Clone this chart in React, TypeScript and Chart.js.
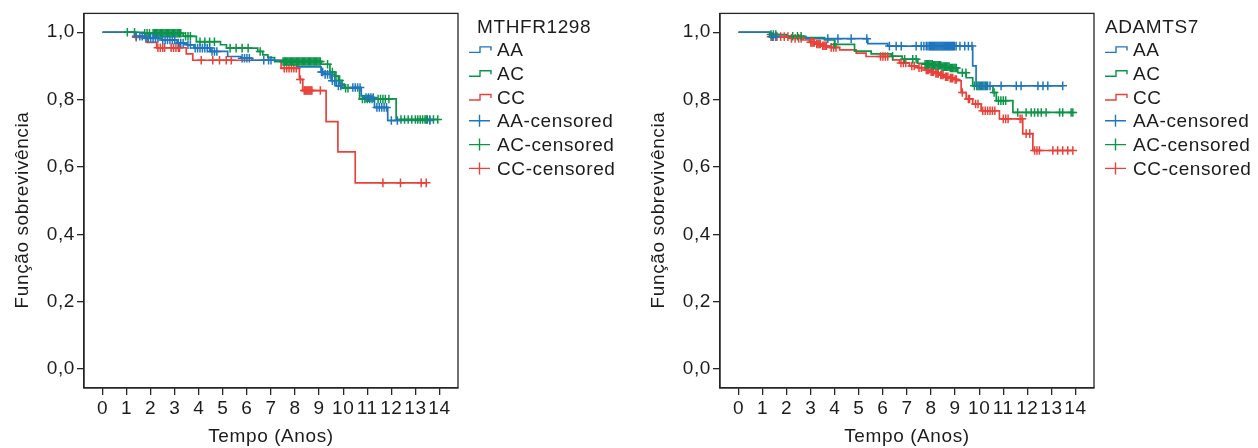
import React, { useEffect, useRef } from "react";
import { Chart, registerables } from "chart.js";

Chart.register(...registerables);

// ---------- shared labels / ticks ----------
const xTickValues = [0, 1, 2, 3, 4, 5, 6, 7, 8, 9, 10, 11, 12, 13, 14];
const yTickValues = [0, 0.2, 0.4, 0.6, 0.8, 1.0];
const groupNames = ["AA", "AC", "CC"];
const legendNames = ["AA", "AC", "CC", "AA-censored", "AC-censored", "CC-censored"];
const xTitle = "Tempo (Anos)";
const yTitle = "Função sobrevivência";
const leftTitle = "MTHFR1298";
const rightTitle = "ADAMTS7";

// ---------- MTHFR1298 ----------
const mthfrAATime = [0, 1.33, 1.75, 2.45, 3.1, 3.5, 3.8, 4.5, 5.2, 5.75, 6.2, 8.1, 9.08, 9.22, 9.5, 9.71, 9.92, 10.75, 10.9, 11.3, 11.85, 13.6];
const mthfrAASurv = [1, 0.988, 0.982, 0.977, 0.968, 0.963, 0.953, 0.943, 0.928, 0.923, 0.917, 0.897, 0.882, 0.875, 0.856, 0.841, 0.836, 0.811, 0.806, 0.777, 0.738, 0.738];
const mthfrAACensor = [1.4, 1.55, 1.65, 1.8, 1.9, 2.0, 2.1, 2.2, 2.3, 2.5, 2.6, 2.7, 2.8, 2.9, 3.0, 3.15, 3.25, 3.35, 3.55, 3.65, 3.85, 3.95, 4.05, 4.15, 4.25, 4.35, 4.45, 4.55, 4.65, 4.75, 5.8, 5.9, 6.0, 6.1, 6.7, 6.9, 7.0, 9.1, 9.15, 9.25, 9.35, 9.45, 9.55, 9.65, 9.8, 9.9, 10.4, 10.5, 10.6, 10.7, 10.95, 11.05, 11.15, 11.25, 11.4, 11.5, 11.6, 11.7, 11.8, 12.0, 12.25, 13.6];

const mthfrACTime = [0, 1.7, 3.35, 3.9, 4.9, 5.15, 6.45, 6.66, 6.87, 7.15, 9.1, 9.45, 9.65, 9.8, 9.95, 10.05, 10.68, 12.2, 13.93];
const mthfrACSurv = [1, 0.997, 0.988, 0.972, 0.963, 0.953, 0.943, 0.933, 0.925, 0.913, 0.905, 0.882, 0.87, 0.857, 0.846, 0.834, 0.802, 0.741, 0.741];
const mthfrACCensor = [1.03, 1.33, 1.75, 1.85, 1.95, 2.1, 2.15, 2.2, 2.25, 2.3, 2.35, 2.4, 2.45, 2.5, 2.55, 2.6, 2.65, 2.7, 2.75, 2.8, 2.85, 2.9, 2.95, 3.0, 3.05, 3.1, 3.15, 3.2, 3.25, 3.45, 3.55, 3.65, 4.05, 4.25, 4.45, 4.65, 5.3, 5.55, 5.8, 6.05, 6.55, 7.5, 7.55, 7.6, 7.65, 7.7, 7.75, 7.8, 7.85, 7.9, 7.95, 8.0, 8.05, 8.1, 8.15, 8.2, 8.25, 8.3, 8.35, 8.4, 8.45, 8.5, 8.55, 8.6, 8.65, 8.7, 8.75, 8.8, 8.85, 8.9, 8.95, 9.0, 9.05, 9.35, 9.55, 9.7, 9.85, 10.1, 10.2, 10.8, 10.9, 11.0, 11.1, 11.2, 11.45, 11.55, 11.65, 11.75, 11.9, 12.4, 12.55, 12.7, 12.85, 13.0, 13.1, 13.2, 13.3, 13.4, 13.45, 13.5, 13.6, 13.75, 13.93];

const mthfrCCTime = [0, 1.35, 1.85, 2.25, 3.48, 3.75, 7.42, 8.18, 8.32, 9.29, 9.78, 10.5, 13.45];
const mthfrCCSurv = [1, 0.985, 0.97, 0.954, 0.936, 0.917, 0.893, 0.86, 0.827, 0.735, 0.645, 0.553, 0.553];
const mthfrCCCensor = [1.4, 2.3, 2.4, 2.5, 2.58, 2.85, 2.95, 3.05, 3.15, 3.2, 4.1, 4.58, 4.86, 5.14, 5.35, 7.55, 7.65, 7.75, 7.85, 7.95, 8.05, 8.22, 8.38, 8.42, 8.46, 8.5, 8.54, 8.58, 8.62, 8.66, 8.7, 9.05, 11.65, 12.38, 13.24, 13.45];

// ---------- ADAMTS7 ----------
const adamAATime = [0, 1.3, 2.8, 5.37, 6.2, 9.73, 9.87, 13.47];
const adamAASurv = [1, 0.987, 0.981, 0.966, 0.959, 0.9, 0.841, 0.841];
const adamAACensor = [1.4, 1.55, 3.71, 4.13, 4.68, 5.33, 6.27, 6.55, 6.76, 7.38, 7.59, 7.7, 7.8, 7.87, 7.93, 7.97, 8.01, 8.05, 8.09, 8.13, 8.17, 8.21, 8.25, 8.29, 8.33, 8.37, 8.41, 8.45, 8.49, 8.53, 8.57, 8.61, 8.65, 8.69, 8.73, 8.77, 8.81, 8.85, 8.89, 8.93, 8.97, 9.04, 9.2, 9.4, 9.55, 9.7, 9.95, 10.05, 10.15, 10.25, 10.35, 10.45, 10.91, 11.54, 11.74, 12.44, 12.65, 12.85, 13.47];

const adamACTime = [0, 1.3, 2.0, 2.74, 3.57, 3.99, 4.82, 5.51, 6.34, 6.8, 7.45, 7.73, 8.1, 8.45, 8.8, 9.11, 9.46, 9.73, 10.57, 10.71, 11.4, 13.89];
const adamACSurv = [1, 0.993, 0.988, 0.984, 0.977, 0.964, 0.944, 0.936, 0.929, 0.92, 0.908, 0.905, 0.902, 0.898, 0.894, 0.88, 0.865, 0.841, 0.821, 0.797, 0.762, 0.762];
const adamACCensor = [1.35, 1.45, 1.55, 2.25, 2.45, 2.6, 4.0, 6.4, 6.9, 7.24, 7.38, 7.75, 7.8, 7.85, 7.9, 7.95, 8.0, 8.05, 8.1, 8.15, 8.2, 8.25, 8.3, 8.35, 8.4, 8.45, 8.5, 8.55, 8.6, 8.65, 8.7, 8.75, 8.8, 8.85, 8.9, 8.95, 9.0, 9.05, 9.3, 9.45, 9.8, 9.9, 10.0, 10.1, 10.2, 10.3, 10.62, 10.8, 10.9, 11.0, 11.1, 11.6, 11.95, 12.16, 12.3, 12.44, 12.58, 12.78, 13.34, 13.47, 13.82, 13.89];

const adamCCTime = [0, 1.29, 2.12, 2.67, 2.95, 3.2, 3.45, 3.78, 4.2, 4.89, 5.3, 6.41, 6.69, 7.1, 7.45, 7.75, 7.95, 8.15, 8.35, 8.55, 8.75, 8.95, 9.1, 9.25, 9.46, 9.73, 10.08, 10.84, 11.81, 12.23, 13.89];
const adamCCSurv = [1, 0.987, 0.982, 0.977, 0.97, 0.965, 0.96, 0.955, 0.948, 0.938, 0.928, 0.918, 0.909, 0.9, 0.895, 0.888, 0.883, 0.878, 0.873, 0.868, 0.864, 0.86, 0.856, 0.821, 0.802, 0.787, 0.767, 0.743, 0.699, 0.649, 0.649];
const adamCCCensor = [1.35, 1.45, 1.6, 1.75, 1.9, 2.05, 2.2, 2.35, 2.5, 2.6, 3.0, 3.05, 3.1, 3.15, 3.25, 3.3, 3.35, 3.4, 3.5, 3.55, 3.6, 3.65, 3.85, 3.95, 4.05, 5.9, 6.0, 6.1, 6.2, 6.75, 6.85, 6.95, 7.2, 7.3, 7.5, 7.6, 7.8, 7.85, 7.9, 8.0, 8.05, 8.1, 8.2, 8.25, 8.3, 8.4, 8.45, 8.5, 8.6, 8.65, 8.7, 8.8, 8.85, 8.9, 9.0, 9.05, 9.3, 9.55, 9.6, 9.85, 9.95, 10.15, 10.25, 10.35, 10.45, 10.55, 10.65, 11.0, 11.1, 11.2, 11.7, 11.78, 11.95, 12.1, 12.3, 12.4, 12.5, 13.06, 13.26, 13.47, 13.68, 13.89];

// ---------- styling ----------
const FONT_FAMILY = "'Liberation Sans', Arial, sans-serif";
const FONT_SIZE = 19;
const LETTER = "0.6px";
const TEXT = "#1c1c1c";
const AXIS = "#262626";
const COLORS = ["#1f76bf", "#0c9448", "#e9423a"];

type Group = { time: number[]; surv: number[]; censor: number[] };

function stepPoints(g: Group) {
  return g.time.map((t, i) => ({ x: t, y: g.surv[i] }));
}
function survivalAt(g: Group, t: number) {
  let s = g.surv[0];
  for (let i = 0; i < g.time.length; i++) if (g.time[i] <= t) s = g.surv[i];
  return s;
}
function censorPoints(g: Group) {
  return g.censor.map((t) => ({ x: t, y: survivalAt(g, t) }));
}

function makeFramePlugin(title: string, titleDx: number) {
  return {
    id: "kmFrame",
    beforeUpdate(chart: any) {
      chart.ctx.letterSpacing = LETTER;
    },
    beforeDraw(chart: any) {
      chart.ctx.letterSpacing = LETTER;
    },
    afterDraw(chart: any) {
      const ctx = chart.ctx as CanvasRenderingContext2D;
      const a = chart.chartArea;
      ctx.save();
      ctx.strokeStyle = AXIS;
      ctx.lineWidth = 1.3;
      ctx.strokeRect(a.left, a.top, a.right - a.left, a.bottom - a.top);

      (ctx as any).letterSpacing = LETTER;
      ctx.font = `${FONT_SIZE}px ${FONT_FAMILY}`;
      ctx.fillStyle = TEXT;

      // y axis title
      ctx.save();
      ctx.translate(23, 210);
      ctx.rotate(-Math.PI / 2);
      ctx.textAlign = "center";
      ctx.textBaseline = "middle";
      ctx.fillText(yTitle, 0, 0);
      ctx.restore();

      // legend
      ctx.textAlign = "left";
      ctx.textBaseline = "alphabetic";
      const iconX = a.right + 11;
      ctx.fillText(title, a.right + titleDx, 33);
      const base0 = 56;
      const step = 23.8;
      legendNames.forEach((name, i) => {
        const base = base0 + step * i;
        const cy = base - 6.6;
        const col = COLORS[i % 3];
        ctx.strokeStyle = col;
        ctx.lineWidth = 1.4;
        ctx.beginPath();
        if (i < 3) {
          ctx.moveTo(iconX, cy + 3);
          ctx.lineTo(iconX + 11, cy + 3);
          ctx.lineTo(iconX + 11, cy - 2.5);
          ctx.lineTo(iconX + 22, cy - 2.5);
          ctx.lineTo(iconX + 22, cy + 1);
        } else {
          ctx.moveTo(iconX, cy);
          ctx.lineTo(iconX + 21, cy);
          ctx.moveTo(iconX + 10.5, cy - 6);
          ctx.lineTo(iconX + 10.5, cy + 6);
        }
        ctx.stroke();
        ctx.fillStyle = TEXT;
        ctx.fillText(name, iconX + 28, base);
      });
      ctx.restore();
    },
  };
}

function KMPlot(props: { left: number; width: number; padRight: number; title: string; titleDx: number; groups: Group[] }) {
  const ref = useRef<HTMLCanvasElement | null>(null);
  useEffect(() => {
    if (!ref.current) return;
    const font = { family: FONT_FAMILY, size: FONT_SIZE };
    const lines = props.groups.map((g, i) => ({
      label: groupNames[i],
      data: stepPoints(g),
      showLine: true,
      stepped: "before",
      borderColor: COLORS[i],
      backgroundColor: COLORS[i],
      borderWidth: 1.7,
      pointRadius: 0,
      fill: false,
    }));
    const cens = props.groups.map((g, i) => ({
      label: groupNames[i] + "-censored",
      data: censorPoints(g),
      showLine: false,
      pointStyle: "cross",
      pointRadius: 4.3,
      pointBorderWidth: 1.5,
      borderColor: COLORS[i],
      backgroundColor: COLORS[i],
    }));
    const chart = new Chart(ref.current, {
      type: "scatter",
      data: { datasets: [...cens, ...lines] as any },
      options: {
        animation: false,
        responsive: false,
        devicePixelRatio: 1,
        events: [],
        layout: { padding: { left: 0, top: 12, right: props.padRight, bottom: 0 } },
        plugins: { legend: { display: false }, tooltip: { enabled: false } },
        scales: {
          x: {
            type: "linear",
            min: -0.77,
            max: 14.77,
            afterFit: (s: any) => {
              s.height = 60;
            },
            afterBuildTicks: (s: any) => {
              s.ticks = xTickValues.map((v) => ({ value: v }));
            },
            grid: { drawOnChartArea: false, drawTicks: true, tickLength: 7, color: AXIS, lineWidth: 1.3 },
            border: { display: true, color: AXIS, width: 1.3 },
            ticks: {
              font,
              color: TEXT,
              padding: 2,
              autoSkip: false,
              maxRotation: 0,
              minRotation: 0,
              callback: (v: any) => String(v),
            },
            title: { display: true, text: xTitle, font, color: TEXT, padding: 0 },
          },
          y: {
            type: "linear",
            min: -0.056,
            max: 1.056,
            afterFit: (s: any) => {
              s.width = 84;
            },
            afterBuildTicks: (s: any) => {
              s.ticks = yTickValues.map((v) => ({ value: v }));
            },
            grid: { drawOnChartArea: false, drawTicks: true, tickLength: 7, color: AXIS, lineWidth: 1.3 },
            border: { display: true, color: AXIS, width: 1.3 },
            ticks: {
              font,
              color: TEXT,
              padding: 2,
              callback: (v: any) => Number(v).toFixed(1).replace(".", ","),
            },
            title: { display: false },
          },
        },
      } as any,
      plugins: [makeFramePlugin(props.title, props.titleDx) as any],
    });
    return () => chart.destroy();
  }, []);
  return (
    <canvas
      ref={ref}
      width={props.width}
      height={448}
      style={{ position: "absolute", left: props.left, top: 0, width: props.width, height: 448, display: "block" }}
    />
  );
}

export default function App() {
  const leftGroups: Group[] = [
    { time: mthfrAATime, surv: mthfrAASurv, censor: mthfrAACensor },
    { time: mthfrACTime, surv: mthfrACSurv, censor: mthfrACCensor },
    { time: mthfrCCTime, surv: mthfrCCSurv, censor: mthfrCCCensor },
  ];
  const rightGroups: Group[] = [
    { time: adamAATime, surv: adamAASurv, censor: adamAACensor },
    { time: adamACTime, surv: adamACSurv, censor: adamACCensor },
    { time: adamCCTime, surv: adamCCSurv, censor: adamCCCensor },
  ];
  return (
    <div style={{ position: "absolute", left: 0, top: 0, width: 1258, height: 448, background: "#fff", overflow: "hidden" }}>
      <KMPlot left={0} width={636} padRight={178} title={leftTitle} titleDx={19} groups={leftGroups} />
      <KMPlot left={636} width={622} padRight={164} title={rightTitle} titleDx={11} groups={rightGroups} />
    </div>
  );
}
